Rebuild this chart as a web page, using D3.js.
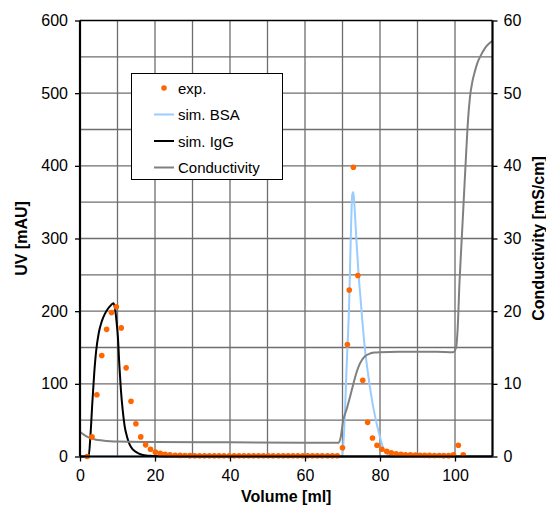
<!DOCTYPE html>
<html><head><meta charset="utf-8">
<script src="https://cdn.jsdelivr.net/npm/d3@7"></script>
<style>html,body{margin:0;padding:0;background:#fff;}svg{display:block;font-family:"Liberation Sans",Arial,sans-serif;}</style>
</head><body><svg id="c" width="546" height="509"></svg>
<script>
// ---- data ----
const xTicks = [0, 20, 40, 60, 80, 100];
const yTicks = [0, 100, 200, 300, 400, 500, 600];
const y2Ticks = [0, 10, 20, 30, 40, 50, 60];
const legendLabels = ["exp.", "sim. BSA", "sim. IgG", "Conductivity"];

const expVol = [1.9, 3.2, 4.5, 5.8, 7.1, 8.4, 9.7, 11.0, 12.3, 13.6,
  14.9, 16.2, 17.5, 18.8, 20.1, 21.4, 22.7, 24.0, 25.4, 26.7,
  28.0, 29.3, 30.6, 31.9, 33.2, 34.5, 35.8, 37.1, 38.4, 39.8,
  41.1, 42.4, 43.7, 45.0, 46.3, 47.6, 48.9, 50.2, 51.5, 52.9,
  54.2, 55.5, 56.8, 58.1, 59.4, 60.7, 62.0, 63.3, 64.6, 66.0,
  67.3, 68.6,
  70.0, 71.3, 71.8, 72.9, 74.1, 75.4, 76.7, 78.0, 79.2, 80.5, 81.8,
  83.0, 84.3, 85.6, 86.8, 88.1, 89.4, 90.7, 91.9, 93.2, 94.5, 95.8, 97.0, 98.3, 99.6, 100.9, 102.2];
const expUV = [0, 27, 85, 139, 175, 198, 206, 177, 122, 76,
  45, 27, 16, 10, 6, 4.5, 3, 2.2, 1.8, 1.5,
  1.3, 1.2, 1.1, 1, 1, 1, 1, 1, 1, 1,
  1, 1, 1, 1, 1, 1, 1, 1, 1, 1,
  1, 1, 1, 1, 1, 1, 1, 1, 1, 1,
  1, 1,
  12, 154, 229, 398, 249, 105, 47, 25.5, 15.5, 10, 7,
  5, 3.8, 3, 2.5, 2.2, 2, 1.8, 1.6, 1.5, 1.4, 1.3, 1.2, 1.2, 2.5, 15.5, 2.5];

const bsaVol = [0, 69.9, 70.4, 71.1, 71.8, 72.3, 72.6, 72.9, 73.3, 73.8, 74.3, 74.85, 75.4, 76.0, 76.6, 77.15, 78.2, 79.3, 80.2, 80.9, 81.8, 83, 110];
const bsaUV  = [0, 0, 32, 123, 215, 320, 360, 364, 335, 290, 250, 215, 180, 147, 122, 101, 68, 41, 23, 11, 4.4, 0, 0];

const iggVol = [0, 2.3, 2.8, 3.3, 3.8, 4.3, 5.0, 5.8, 6.6, 7.4, 8.2, 8.9, 9.3, 9.7, 10.1, 10.5, 10.9, 11.4, 11.9, 12.5, 13.2, 14.0, 15.0, 16.5, 18.5, 21, 25, 110];
const iggUV  = [0, 0, 30, 75, 115, 145, 170, 186, 196, 203, 208, 211, 205, 188, 165, 125, 92, 63, 42, 28, 17, 10, 6, 2.5, 1, 0.3, 0, 0];

const condVol = [0, 1, 2, 3, 4, 6, 8, 10, 20, 40, 60, 69, 69.5, 70.2, 71.1, 72, 72.9, 73.7, 74.4, 75.1, 76, 77, 78.5, 80, 85, 90, 95, 99.5,
  100.3, 100.7, 101.2, 101.8, 102.4, 103, 103.5, 104, 104.6, 105.3, 106, 107, 108, 109, 110];
const condVal = [3.4, 3.0, 2.7, 2.5, 2.35, 2.2, 2.1, 2.05, 2.0, 1.95, 1.9, 1.9, 2.6, 5.0, 6.5, 8.2, 10.0, 11.5, 12.5, 13.2, 13.8, 14.1, 14.3, 14.35, 14.4, 14.4, 14.4, 14.35,
  15, 17.5, 24, 30, 36, 42, 46.5, 49.5, 51.5, 53, 54.2, 55.3, 56.2, 56.8, 57.2];

// ---- chart ----
const svg = d3.select("#c");
const L = 80, R = 492.5, T = 20.5, B = 456.5;
const x = d3.scaleLinear().domain([0, 110]).range([L, R]);
const y = d3.scaleLinear().domain([0, 600]).range([B, T]);
const y2 = d3.scaleLinear().domain([0, 60]).range([B, T]);

// grid
const g = svg.append("g");
g.selectAll("line.vx").data(d3.range(10, 110, 10)).join("line")
  .attr("x1", d => x(d)).attr("x2", d => x(d)).attr("y1", T).attr("y2", B)
  .attr("stroke", "#6e6e6e").attr("stroke-width", 1.3);
g.selectAll("line.hy").data(d3.range(50, 600, 50)).join("line")
  .attr("x1", L).attr("x2", R).attr("y1", d => y(d)).attr("y2", d => y(d))
  .attr("stroke", "#6e6e6e").attr("stroke-width", 1.3);

// lines
const lineUV = (xs, ys) => d3.line().x((d, i) => x(xs[i])).y((d, i) => y(ys[i])).curve(d3.curveMonotoneX)(xs);
svg.append("path").attr("d", lineUV(bsaVol, bsaUV)).attr("fill", "none").attr("stroke", "#99CCFF").attr("stroke-width", 2);
svg.append("path").attr("d", lineUV(iggVol, iggUV)).attr("fill", "none").attr("stroke", "#000").attr("stroke-width", 2);
svg.append("path").attr("d", d3.line().x((d, i) => x(condVol[i])).y((d, i) => y2(condVal[i])).curve(d3.curveMonotoneX)(condVol))
  .attr("fill", "none").attr("stroke", "#808080").attr("stroke-width", 2);

// dots
svg.append("g").selectAll("circle").data(expVol).join("circle")
  .attr("cx", d => x(d)).attr("cy", (d, i) => y(expUV[i])).attr("r", 2.8).attr("fill", "#FF6600");

// frame
svg.append("line").attr("x1", L).attr("x2", R).attr("y1", T).attr("y2", T).attr("stroke", "#000").attr("stroke-width", 1.5);

// axes
const fs = "16px";
const ax = svg.append("g").attr("transform", `translate(0,${B})`)
  .call(d3.axisBottom(x).tickValues(xTicks).tickSize(5).tickPadding(8));
const ay = svg.append("g").attr("transform", `translate(${L},0)`)
  .call(d3.axisLeft(y).tickValues(yTicks).tickSize(5).tickPadding(7));
const ay2 = svg.append("g").attr("transform", `translate(${R},0)`)
  .call(d3.axisRight(y2).tickValues(y2Ticks).tickSize(5).tickPadding(6));
[ax, ay, ay2].forEach(a => {
  a.selectAll(".domain").attr("stroke", "#000").attr("stroke-width", 2.2);
  a.selectAll(".tick line").attr("stroke", "#000").attr("stroke-width", 1.3);
  a.selectAll("text").attr("font-size", fs).attr("fill", "#000").attr("font-family", "Liberation Sans, Arial, sans-serif");
});
ax.select(".domain").attr("d", `M${L},0H${R}`);
ay.select(".domain").attr("d", `M0,${B}V${T}`);
ay2.select(".domain").attr("d", `M0,${B}V${T}`);

// axis titles
svg.append("text").attr("x", (L + R) / 2).attr("y", 502).attr("text-anchor", "middle")
  .attr("font-size", "16px").attr("font-weight", "bold").text("Volume [ml]");
svg.append("text").attr("transform", `translate(27,${(T + B) / 2}) rotate(-90)`).attr("text-anchor", "middle")
  .attr("font-size", "16px").attr("font-weight", "bold").text("UV [mAU]");
svg.append("text").attr("transform", `translate(544,${(T + B) / 2}) rotate(-90)`).attr("text-anchor", "middle")
  .attr("font-size", "16px").attr("font-weight", "bold").text("Conductivity [mS/cm]");

// legend
const lg = svg.append("g");
lg.append("rect").attr("x", 131.5).attr("y", 73.5).attr("width", 151).attr("height", 106)
  .attr("fill", "#fff").attr("stroke", "#000").attr("stroke-width", 1);
const legendStyles = [
  {type: "dot", color: "#FF6600"},
  {type: "line", color: "#99CCFF"},
  {type: "line", color: "#000"},
  {type: "line", color: "#808080"}
];
legendLabels.forEach((lab, i) => {
  const cy = 88 + i * 26.5;
  const st = legendStyles[i];
  if (st.type === "dot") lg.append("circle").attr("cx", 164).attr("cy", cy).attr("r", 2.8).attr("fill", st.color);
  else lg.append("line").attr("x1", 154).attr("x2", 174).attr("y1", cy).attr("y2", cy).attr("stroke", st.color).attr("stroke-width", 2);
  lg.append("text").attr("x", 178).attr("y", cy + 5.5).attr("font-size", "15px").text(lab);
});
</script></body></html>
